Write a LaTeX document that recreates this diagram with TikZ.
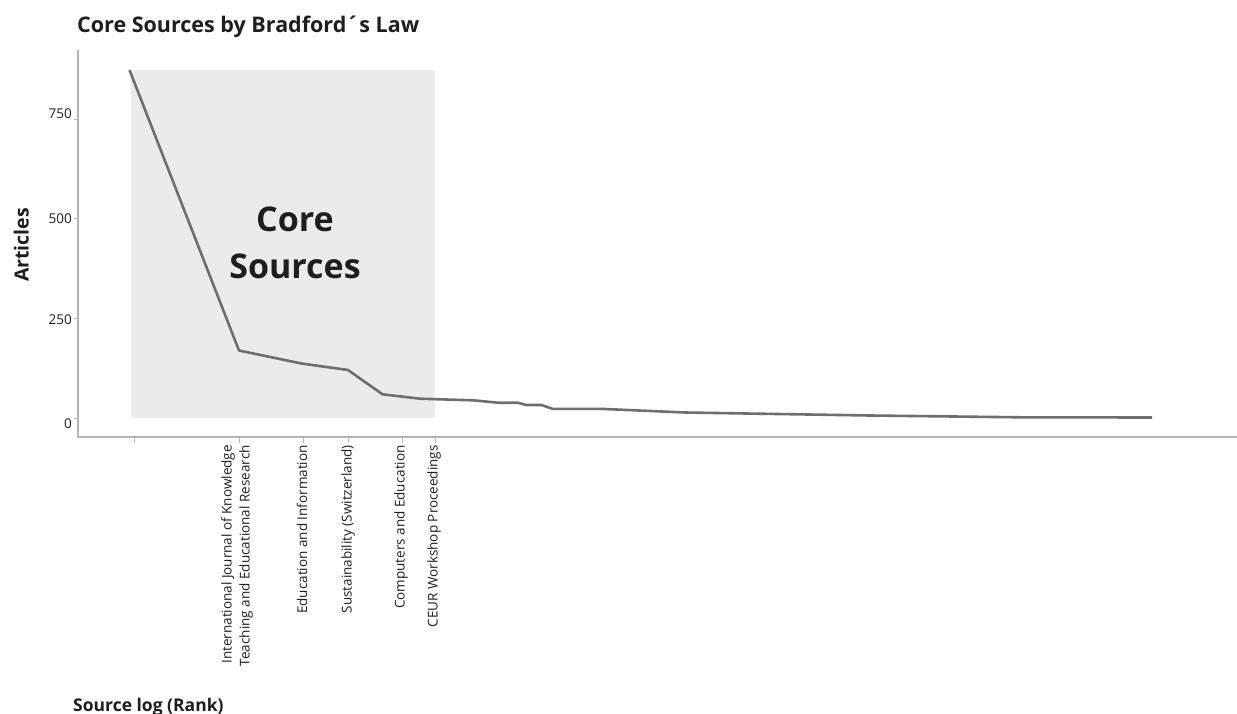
\documentclass[tikz,border=0pt]{standalone}
\usepackage{fontspec}
\setmainfont{Open Sans}
\definecolor{bandgray}{RGB}{235,235,235}
\definecolor{linegray}{RGB}{110,110,110}
\definecolor{axisgray}{RGB}{180,180,180}
\definecolor{txt}{RGB}{30,30,30}
\begin{document}
\begin{tikzpicture}[x=1pt,y=-1pt,
  axis/.style={draw=axisgray,line width=1.8pt},
  tickmark/.style={draw=axisgray,line width=1pt},
  curve/.style={draw=linegray,line width=2.6pt,line join=round},
  ylab/.style={anchor=base east,font=\fontsize{13.5}{15}\selectfont,text=txt,inner sep=0pt},
  xlab/.style={anchor=east,rotate=90,align=right,font=\fontsize{13.5}{18}\selectfont,text=txt,inner sep=0pt},
  boldlab/.style={font=\bfseries,text=txt,inner sep=0pt}]
\useasboundingbox (0,0) rectangle (1237,714);
% core band
\fill[bandgray] (131,70) rectangle (435,418);
% axes
\coordinate (o) at (78,437);
\coordinate (ytop) at (78,50);
\coordinate (xend) at (1237,437);
\draw[axis] (ytop) -- (o) -- (xend);
% y ticks
\foreach \v/\yy/\ly in {0/418/428,250/318.5/324,500/219/224,750/119.5/119}{
  \draw[tickmark] (74,\yy) -- (78,\yy);
  \node[ylab] (y\v) at (72,\ly) {\v};
}
% x ticks
\foreach \xx in {134,239,303,348,402,435}{
  \draw[tickmark] (\xx,438) -- (\xx,443);
}
\node[xlab] (l1) at (237,445) {International Journal of Knowledge\\Teaching and Educational Research};
\node[xlab] (l2) at (302,445) {Education and Information};
\node[xlab] (l3) at (348,445) {Sustainability (Switzerland)};
\node[xlab] (l4) at (401,445) {Computers and Education};
\node[xlab] (l5) at (434,445) {CEUR Workshop Proceedings};
% curve
\draw[curve] (129.5,70) -- (239,350.5) -- (301.5,363.5) -- (348,370) -- (382.5,394.3)
  -- (420,398.7) -- (473,400.3) -- (498,402.7) -- (518,402.7) -- (526,405) -- (541.5,405)
  -- (552.5,408.8) -- (600,408.8) -- (685,412.5) -- (870,415.5) -- (1020,417.3) -- (1152,417.5);
% texts
\node[boldlab,anchor=base west,font=\bfseries\fontsize{21.5}{24}\selectfont] (title) at (77,33) {Core Sources by Bradford´s Law};
\node[boldlab,anchor=base,rotate=90,font=\bfseries\fontsize{19.5}{22}\selectfont] (ytitle) at (28.5,245) {Articles};
\node[boldlab,anchor=base west,font=\bfseries\fontsize{17.5}{20}\selectfont] (xtitle) at (73,711) {Source log (Rank)};
\node[boldlab,align=center,font=\bfseries\fontsize{34}{47}\selectfont] (core) at (295,243) {Core\\Sources};
\end{tikzpicture}
\end{document}
